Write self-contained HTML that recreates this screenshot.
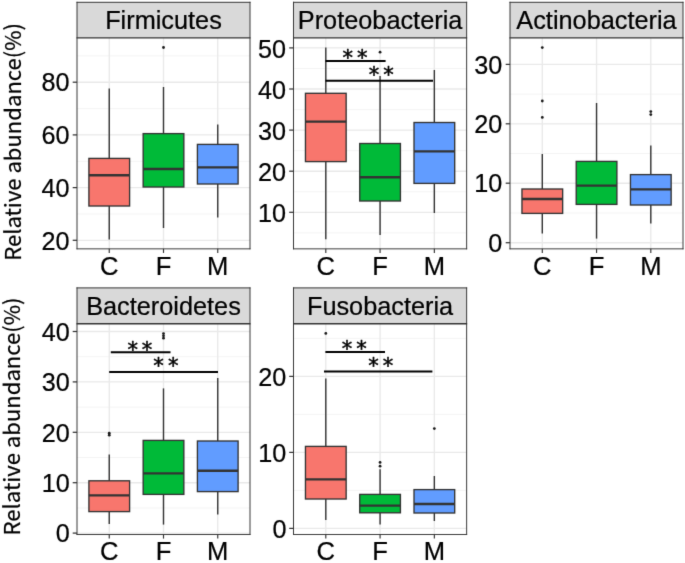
<!DOCTYPE html>
<html lang="en"><head><meta charset="utf-8"><title>Relative abundance of phyla</title>
<style>html,body{margin:0;padding:0;background:#fff}body{width:685px;height:563px;overflow:hidden}svg{display:block}text{font-family:"Liberation Sans",Arial,sans-serif;fill:#000;stroke:#000;stroke-width:0.22px;stroke-linejoin:round}.ast{font-family:"DejaVu Sans","Liberation Sans",sans-serif;stroke-width:0.5px}.yt{font-family:"Noto Sans CJK SC","Noto Sans CJK JP","Liberation Sans",sans-serif}</style></head><body>
<svg width="685" height="563" viewBox="0 0 685 563">
<rect x="0" y="0" width="685" height="563" fill="#ffffff"/>
<defs><filter id="soft" x="0" y="0" width="685" height="563" filterUnits="userSpaceOnUse" color-interpolation-filters="sRGB"><feConvolveMatrix order="3" kernelMatrix="0.01000 0.08000 0.01000 0.08000 0.64000 0.08000 0.01000 0.08000 0.01000" divisor="1" edgeMode="duplicate" preserveAlpha="true"/></filter></defs>
<g filter="url(#soft)">
<rect x="-5" y="-5" width="695" height="573" fill="#ffffff"/>
<text transform="translate(20.6,141.9) rotate(-90)" text-anchor="middle" font-size="22.05" class="yt">Relative abundance(%)</text>
<text transform="translate(19.6,416.5) rotate(-90)" text-anchor="middle" font-size="22.05" class="yt">Relative abundance(%)</text>
<g>
<rect x="77" y="37.8" width="173" height="211.05" fill="#fff"/>
<line x1="77" x2="250" y1="108.55" y2="108.55" stroke="#f1f1f1" stroke-width="0.8"/>
<line x1="77" x2="250" y1="161.25" y2="161.25" stroke="#f1f1f1" stroke-width="0.8"/>
<line x1="77" x2="250" y1="213.95" y2="213.95" stroke="#f1f1f1" stroke-width="0.8"/>
<line x1="77" x2="250" y1="55.85" y2="55.85" stroke="#f1f1f1" stroke-width="0.8"/>
<line x1="77" x2="250" y1="82.2" y2="82.2" stroke="#e9e9e9" stroke-width="1.35"/>
<line x1="77" x2="250" y1="134.9" y2="134.9" stroke="#e9e9e9" stroke-width="1.35"/>
<line x1="77" x2="250" y1="187.6" y2="187.6" stroke="#e9e9e9" stroke-width="1.35"/>
<line x1="77" x2="250" y1="240.3" y2="240.3" stroke="#e9e9e9" stroke-width="1.35"/>
<line x1="109.25" x2="109.25" y1="37.8" y2="248.85" stroke="#e9e9e9" stroke-width="1.35"/>
<line x1="163.5" x2="163.5" y1="37.8" y2="248.85" stroke="#e9e9e9" stroke-width="1.35"/>
<line x1="217.75" x2="217.75" y1="37.8" y2="248.85" stroke="#e9e9e9" stroke-width="1.35"/>
<line x1="109.25" x2="109.25" y1="88.4" y2="158.4" stroke="#333333" stroke-width="1.4"/>
<line x1="109.25" x2="109.25" y1="206" y2="239.6" stroke="#333333" stroke-width="1.4"/>
<rect x="88.91" y="158.4" width="40.69" height="47.6" fill="#F8766D" stroke="#333333" stroke-width="1.35"/>
<line x1="88.91" x2="129.59" y1="175.3" y2="175.3" stroke="#333333" stroke-width="2.4"/>
<line x1="163.5" x2="163.5" y1="87" y2="133.6" stroke="#333333" stroke-width="1.4"/>
<line x1="163.5" x2="163.5" y1="187" y2="228" stroke="#333333" stroke-width="1.4"/>
<rect x="143.16" y="133.6" width="40.69" height="53.4" fill="#00BA38" stroke="#333333" stroke-width="1.35"/>
<line x1="143.16" x2="183.84" y1="169" y2="169" stroke="#333333" stroke-width="2.4"/>
<line x1="217.75" x2="217.75" y1="124.4" y2="144.4" stroke="#333333" stroke-width="1.4"/>
<line x1="217.75" x2="217.75" y1="184" y2="217.6" stroke="#333333" stroke-width="1.4"/>
<rect x="197.41" y="144.4" width="40.69" height="39.6" fill="#619CFF" stroke="#333333" stroke-width="1.35"/>
<line x1="197.41" x2="238.09" y1="167.4" y2="167.4" stroke="#333333" stroke-width="2.4"/>
<circle cx="163.5" cy="47.5" r="1.4" fill="#1a1a1a"/>
<rect x="77" y="2.3" width="173" height="35.5" fill="#d9d9d9"/>
<line x1="77" x2="77" y1="1.8" y2="249.3" stroke="#333333" stroke-width="0.97"/>
<line x1="250" x2="250" y1="1.8" y2="249.3" stroke="#333333" stroke-width="0.97"/>
<line x1="76.52" x2="250.49" y1="2.3" y2="2.3" stroke="#333333" stroke-width="1.0"/>
<line x1="76.52" x2="250.49" y1="37.8" y2="37.8" stroke="#333333" stroke-width="1.3"/>
<line x1="76.52" x2="250.49" y1="248.85" y2="248.85" stroke="#333333" stroke-width="0.95"/>
<text x="163.5" y="28.9" text-anchor="middle" font-size="25.3" fill="#1a1a1a" stroke="#1a1a1a">Firmicutes</text>
<line x1="72.7" x2="77" y1="82.2" y2="82.2" stroke="#333333" stroke-width="1.25"/>
<text x="69.5" y="91.4" text-anchor="end" font-size="25.2">80</text>
<line x1="72.7" x2="77" y1="134.9" y2="134.9" stroke="#333333" stroke-width="1.25"/>
<text x="69.5" y="144.1" text-anchor="end" font-size="25.2">60</text>
<line x1="72.7" x2="77" y1="187.6" y2="187.6" stroke="#333333" stroke-width="1.25"/>
<text x="69.5" y="196.8" text-anchor="end" font-size="25.2">40</text>
<line x1="72.7" x2="77" y1="240.3" y2="240.3" stroke="#333333" stroke-width="1.25"/>
<text x="69.5" y="249.5" text-anchor="end" font-size="25.2">20</text>
<line x1="109.25" x2="109.25" y1="248.85" y2="252.95" stroke="#333333" stroke-width="1.15"/>
<text x="109.25" y="274.8" text-anchor="middle" font-size="25.6">C</text>
<line x1="163.5" x2="163.5" y1="248.85" y2="252.95" stroke="#333333" stroke-width="1.15"/>
<text x="163.5" y="274.8" text-anchor="middle" font-size="25.6">F</text>
<line x1="217.75" x2="217.75" y1="248.85" y2="252.95" stroke="#333333" stroke-width="1.15"/>
<text x="217.75" y="274.8" text-anchor="middle" font-size="25.6">M</text>
</g>
<g>
<rect x="293.5" y="37.8" width="173.15" height="211.05" fill="#fff"/>
<line x1="293.5" x2="466.65" y1="68.45" y2="68.45" stroke="#f1f1f1" stroke-width="0.8"/>
<line x1="293.5" x2="466.65" y1="109.55" y2="109.55" stroke="#f1f1f1" stroke-width="0.8"/>
<line x1="293.5" x2="466.65" y1="150.65" y2="150.65" stroke="#f1f1f1" stroke-width="0.8"/>
<line x1="293.5" x2="466.65" y1="191.75" y2="191.75" stroke="#f1f1f1" stroke-width="0.8"/>
<line x1="293.5" x2="466.65" y1="232.85" y2="232.85" stroke="#f1f1f1" stroke-width="0.8"/>
<line x1="293.5" x2="466.65" y1="47.9" y2="47.9" stroke="#e9e9e9" stroke-width="1.35"/>
<line x1="293.5" x2="466.65" y1="89" y2="89" stroke="#e9e9e9" stroke-width="1.35"/>
<line x1="293.5" x2="466.65" y1="130.1" y2="130.1" stroke="#e9e9e9" stroke-width="1.35"/>
<line x1="293.5" x2="466.65" y1="171.2" y2="171.2" stroke="#e9e9e9" stroke-width="1.35"/>
<line x1="293.5" x2="466.65" y1="212.3" y2="212.3" stroke="#e9e9e9" stroke-width="1.35"/>
<line x1="325.8" x2="325.8" y1="37.8" y2="248.85" stroke="#e9e9e9" stroke-width="1.35"/>
<line x1="380.08" x2="380.08" y1="37.8" y2="248.85" stroke="#e9e9e9" stroke-width="1.35"/>
<line x1="434.35" x2="434.35" y1="37.8" y2="248.85" stroke="#e9e9e9" stroke-width="1.35"/>
<line x1="325.8" x2="325.8" y1="47.6" y2="93.3" stroke="#333333" stroke-width="1.4"/>
<line x1="325.8" x2="325.8" y1="161.6" y2="239.2" stroke="#333333" stroke-width="1.4"/>
<rect x="305.46" y="93.3" width="40.69" height="68.3" fill="#F8766D" stroke="#333333" stroke-width="1.35"/>
<line x1="305.46" x2="346.14" y1="121.6" y2="121.6" stroke="#333333" stroke-width="2.4"/>
<line x1="380.08" x2="380.08" y1="75.9" y2="143.5" stroke="#333333" stroke-width="1.4"/>
<line x1="380.08" x2="380.08" y1="201" y2="235" stroke="#333333" stroke-width="1.4"/>
<rect x="359.74" y="143.5" width="40.69" height="57.5" fill="#00BA38" stroke="#333333" stroke-width="1.35"/>
<line x1="359.74" x2="400.42" y1="177.3" y2="177.3" stroke="#333333" stroke-width="2.4"/>
<line x1="434.35" x2="434.35" y1="70" y2="122.5" stroke="#333333" stroke-width="1.4"/>
<line x1="434.35" x2="434.35" y1="183.4" y2="213" stroke="#333333" stroke-width="1.4"/>
<rect x="414.01" y="122.5" width="40.69" height="60.9" fill="#619CFF" stroke="#333333" stroke-width="1.35"/>
<line x1="414.01" x2="454.69" y1="151.4" y2="151.4" stroke="#333333" stroke-width="2.4"/>
<circle cx="380.08" cy="52.2" r="1.4" fill="#1a1a1a"/>
<line x1="325.5" x2="385.6" y1="61" y2="61" stroke="#000" stroke-width="2.0"/>
<text class="ast" x="347.7" y="64.9" text-anchor="middle" font-size="21" stroke="#000" stroke-width="0.55">*</text>
<text class="ast" x="362.3" y="64.9" text-anchor="middle" font-size="21" stroke="#000" stroke-width="0.55">*</text>
<line x1="325.5" x2="433" y1="80.7" y2="80.7" stroke="#000" stroke-width="2.0"/>
<text class="ast" x="374" y="82.2" text-anchor="middle" font-size="21" stroke="#000" stroke-width="0.55">*</text>
<text class="ast" x="388.4" y="82.2" text-anchor="middle" font-size="21" stroke="#000" stroke-width="0.55">*</text>
<rect x="293.5" y="2.3" width="173.15" height="35.5" fill="#d9d9d9"/>
<line x1="293.5" x2="293.5" y1="1.8" y2="249.3" stroke="#333333" stroke-width="0.97"/>
<line x1="466.65" x2="466.65" y1="1.8" y2="249.3" stroke="#333333" stroke-width="0.97"/>
<line x1="293.01" x2="467.13" y1="2.3" y2="2.3" stroke="#333333" stroke-width="1.0"/>
<line x1="293.01" x2="467.13" y1="37.8" y2="37.8" stroke="#333333" stroke-width="1.3"/>
<line x1="293.01" x2="467.13" y1="248.85" y2="248.85" stroke="#333333" stroke-width="0.95"/>
<text x="380.07" y="28.9" text-anchor="middle" font-size="25.3" fill="#1a1a1a" stroke="#1a1a1a">Proteobacteria</text>
<line x1="289.2" x2="293.5" y1="47.9" y2="47.9" stroke="#333333" stroke-width="1.25"/>
<text x="286.1" y="57.6" text-anchor="end" font-size="25.2">50</text>
<line x1="289.2" x2="293.5" y1="89" y2="89" stroke="#333333" stroke-width="1.25"/>
<text x="286.1" y="98.7" text-anchor="end" font-size="25.2">40</text>
<line x1="289.2" x2="293.5" y1="130.1" y2="130.1" stroke="#333333" stroke-width="1.25"/>
<text x="286.1" y="139.8" text-anchor="end" font-size="25.2">30</text>
<line x1="289.2" x2="293.5" y1="171.2" y2="171.2" stroke="#333333" stroke-width="1.25"/>
<text x="286.1" y="180.9" text-anchor="end" font-size="25.2">20</text>
<line x1="289.2" x2="293.5" y1="212.3" y2="212.3" stroke="#333333" stroke-width="1.25"/>
<text x="286.1" y="222" text-anchor="end" font-size="25.2">10</text>
<line x1="325.8" x2="325.8" y1="248.85" y2="252.95" stroke="#333333" stroke-width="1.15"/>
<text x="325.8" y="274.8" text-anchor="middle" font-size="25.6">C</text>
<line x1="380.08" x2="380.08" y1="248.85" y2="252.95" stroke="#333333" stroke-width="1.15"/>
<text x="380.08" y="274.8" text-anchor="middle" font-size="25.6">F</text>
<line x1="434.35" x2="434.35" y1="248.85" y2="252.95" stroke="#333333" stroke-width="1.15"/>
<text x="434.35" y="274.8" text-anchor="middle" font-size="25.6">M</text>
</g>
<g>
<rect x="510" y="37.8" width="173" height="211.05" fill="#fff"/>
<line x1="510" x2="683" y1="94.1" y2="94.1" stroke="#f1f1f1" stroke-width="0.8"/>
<line x1="510" x2="683" y1="153.5" y2="153.5" stroke="#f1f1f1" stroke-width="0.8"/>
<line x1="510" x2="683" y1="212.95" y2="212.95" stroke="#f1f1f1" stroke-width="0.8"/>
<line x1="510" x2="683" y1="64.4" y2="64.4" stroke="#e9e9e9" stroke-width="1.35"/>
<line x1="510" x2="683" y1="123.8" y2="123.8" stroke="#e9e9e9" stroke-width="1.35"/>
<line x1="510" x2="683" y1="183.2" y2="183.2" stroke="#e9e9e9" stroke-width="1.35"/>
<line x1="510" x2="683" y1="242.7" y2="242.7" stroke="#e9e9e9" stroke-width="1.35"/>
<line x1="542.3" x2="542.3" y1="37.8" y2="248.85" stroke="#e9e9e9" stroke-width="1.35"/>
<line x1="596.55" x2="596.55" y1="37.8" y2="248.85" stroke="#e9e9e9" stroke-width="1.35"/>
<line x1="650.8" x2="650.8" y1="37.8" y2="248.85" stroke="#e9e9e9" stroke-width="1.35"/>
<line x1="542.3" x2="542.3" y1="154" y2="189" stroke="#333333" stroke-width="1.4"/>
<line x1="542.3" x2="542.3" y1="213.4" y2="233.6" stroke="#333333" stroke-width="1.4"/>
<rect x="521.96" y="189" width="40.69" height="24.4" fill="#F8766D" stroke="#333333" stroke-width="1.35"/>
<line x1="521.96" x2="562.64" y1="199" y2="199" stroke="#333333" stroke-width="2.4"/>
<line x1="596.55" x2="596.55" y1="103" y2="161.4" stroke="#333333" stroke-width="1.4"/>
<line x1="596.55" x2="596.55" y1="204.4" y2="238.6" stroke="#333333" stroke-width="1.4"/>
<rect x="576.21" y="161.4" width="40.69" height="43" fill="#00BA38" stroke="#333333" stroke-width="1.35"/>
<line x1="576.21" x2="616.89" y1="185.6" y2="185.6" stroke="#333333" stroke-width="2.4"/>
<line x1="650.8" x2="650.8" y1="145.6" y2="174.6" stroke="#333333" stroke-width="1.4"/>
<line x1="650.8" x2="650.8" y1="205" y2="223.4" stroke="#333333" stroke-width="1.4"/>
<rect x="630.46" y="174.6" width="40.69" height="30.4" fill="#619CFF" stroke="#333333" stroke-width="1.35"/>
<line x1="630.46" x2="671.14" y1="189.4" y2="189.4" stroke="#333333" stroke-width="2.4"/>
<circle cx="542.3" cy="47.6" r="1.4" fill="#1a1a1a"/>
<circle cx="542.3" cy="101" r="1.4" fill="#1a1a1a"/>
<circle cx="542.3" cy="117.4" r="1.4" fill="#1a1a1a"/>
<circle cx="650.8" cy="111.6" r="1.4" fill="#1a1a1a"/>
<circle cx="650.8" cy="114.6" r="1.4" fill="#1a1a1a"/>
<rect x="510" y="2.3" width="173" height="35.5" fill="#d9d9d9"/>
<line x1="510" x2="510" y1="1.8" y2="249.3" stroke="#333333" stroke-width="0.97"/>
<line x1="683" x2="683" y1="1.8" y2="249.3" stroke="#333333" stroke-width="0.97"/>
<line x1="509.51" x2="683.49" y1="2.3" y2="2.3" stroke="#333333" stroke-width="1.0"/>
<line x1="509.51" x2="683.49" y1="37.8" y2="37.8" stroke="#333333" stroke-width="1.3"/>
<line x1="509.51" x2="683.49" y1="248.85" y2="248.85" stroke="#333333" stroke-width="0.95"/>
<text x="596.5" y="28.9" text-anchor="middle" font-size="25.3" fill="#1a1a1a" stroke="#1a1a1a">Actinobacteria</text>
<line x1="505.7" x2="510" y1="64.4" y2="64.4" stroke="#333333" stroke-width="1.25"/>
<text x="502.3" y="73.6" text-anchor="end" font-size="25.2">30</text>
<line x1="505.7" x2="510" y1="123.8" y2="123.8" stroke="#333333" stroke-width="1.25"/>
<text x="502.3" y="133" text-anchor="end" font-size="25.2">20</text>
<line x1="505.7" x2="510" y1="183.2" y2="183.2" stroke="#333333" stroke-width="1.25"/>
<text x="502.3" y="192.4" text-anchor="end" font-size="25.2">10</text>
<line x1="505.7" x2="510" y1="242.7" y2="242.7" stroke="#333333" stroke-width="1.25"/>
<text x="502.3" y="251.9" text-anchor="end" font-size="25.2">0</text>
<line x1="542.3" x2="542.3" y1="248.85" y2="252.95" stroke="#333333" stroke-width="1.15"/>
<text x="542.3" y="274.8" text-anchor="middle" font-size="25.6">C</text>
<line x1="596.55" x2="596.55" y1="248.85" y2="252.95" stroke="#333333" stroke-width="1.15"/>
<text x="596.55" y="274.8" text-anchor="middle" font-size="25.6">F</text>
<line x1="650.8" x2="650.8" y1="248.85" y2="252.95" stroke="#333333" stroke-width="1.15"/>
<text x="650.8" y="274.8" text-anchor="middle" font-size="25.6">M</text>
</g>
<g>
<rect x="77" y="323.75" width="173" height="210.75" fill="#fff"/>
<line x1="77" x2="250" y1="356.7" y2="356.7" stroke="#f1f1f1" stroke-width="0.8"/>
<line x1="77" x2="250" y1="407.1" y2="407.1" stroke="#f1f1f1" stroke-width="0.8"/>
<line x1="77" x2="250" y1="457.5" y2="457.5" stroke="#f1f1f1" stroke-width="0.8"/>
<line x1="77" x2="250" y1="507.9" y2="507.9" stroke="#f1f1f1" stroke-width="0.8"/>
<line x1="77" x2="250" y1="331.5" y2="331.5" stroke="#e9e9e9" stroke-width="1.35"/>
<line x1="77" x2="250" y1="381.9" y2="381.9" stroke="#e9e9e9" stroke-width="1.35"/>
<line x1="77" x2="250" y1="432.3" y2="432.3" stroke="#e9e9e9" stroke-width="1.35"/>
<line x1="77" x2="250" y1="482.7" y2="482.7" stroke="#e9e9e9" stroke-width="1.35"/>
<line x1="77" x2="250" y1="533.1" y2="533.1" stroke="#e9e9e9" stroke-width="1.35"/>
<line x1="109.25" x2="109.25" y1="323.75" y2="534.5" stroke="#e9e9e9" stroke-width="1.35"/>
<line x1="163.5" x2="163.5" y1="323.75" y2="534.5" stroke="#e9e9e9" stroke-width="1.35"/>
<line x1="217.75" x2="217.75" y1="323.75" y2="534.5" stroke="#e9e9e9" stroke-width="1.35"/>
<line x1="109.25" x2="109.25" y1="454.4" y2="480.8" stroke="#333333" stroke-width="1.4"/>
<line x1="109.25" x2="109.25" y1="511.6" y2="524" stroke="#333333" stroke-width="1.4"/>
<rect x="88.91" y="480.8" width="40.69" height="30.8" fill="#F8766D" stroke="#333333" stroke-width="1.35"/>
<line x1="88.91" x2="129.59" y1="495.4" y2="495.4" stroke="#333333" stroke-width="2.4"/>
<line x1="163.5" x2="163.5" y1="388.4" y2="440.4" stroke="#333333" stroke-width="1.4"/>
<line x1="163.5" x2="163.5" y1="494.4" y2="524.6" stroke="#333333" stroke-width="1.4"/>
<rect x="143.16" y="440.4" width="40.69" height="54" fill="#00BA38" stroke="#333333" stroke-width="1.35"/>
<line x1="143.16" x2="183.84" y1="473.4" y2="473.4" stroke="#333333" stroke-width="2.4"/>
<line x1="217.75" x2="217.75" y1="378" y2="441" stroke="#333333" stroke-width="1.4"/>
<line x1="217.75" x2="217.75" y1="491.6" y2="514.6" stroke="#333333" stroke-width="1.4"/>
<rect x="197.41" y="441" width="40.69" height="50.6" fill="#619CFF" stroke="#333333" stroke-width="1.35"/>
<line x1="197.41" x2="238.09" y1="470.8" y2="470.8" stroke="#333333" stroke-width="2.4"/>
<circle cx="109.25" cy="433.2" r="1.4" fill="#1a1a1a"/>
<circle cx="109.25" cy="435.2" r="1.4" fill="#1a1a1a"/>
<circle cx="163.5" cy="333.6" r="1.4" fill="#1a1a1a"/>
<circle cx="163.5" cy="335.8" r="1.4" fill="#1a1a1a"/>
<circle cx="163.5" cy="338.2" r="1.4" fill="#1a1a1a"/>
<line x1="110.8" x2="170.5" y1="352.3" y2="352.3" stroke="#000" stroke-width="2.0"/>
<text class="ast" x="132.7" y="356.5" text-anchor="middle" font-size="21" stroke="#000" stroke-width="0.55">*</text>
<text class="ast" x="147.1" y="356.5" text-anchor="middle" font-size="21" stroke="#000" stroke-width="0.55">*</text>
<line x1="109.2" x2="218" y1="371.9" y2="371.9" stroke="#000" stroke-width="2.0"/>
<text class="ast" x="158.5" y="373.2" text-anchor="middle" font-size="21" stroke="#000" stroke-width="0.55">*</text>
<text class="ast" x="173.2" y="373.2" text-anchor="middle" font-size="21" stroke="#000" stroke-width="0.55">*</text>
<rect x="77" y="287.9" width="173" height="35.85" fill="#d9d9d9"/>
<line x1="77" x2="77" y1="287.4" y2="534.95" stroke="#333333" stroke-width="0.97"/>
<line x1="250" x2="250" y1="287.4" y2="534.95" stroke="#333333" stroke-width="0.97"/>
<line x1="76.52" x2="250.49" y1="287.9" y2="287.9" stroke="#333333" stroke-width="1.0"/>
<line x1="76.52" x2="250.49" y1="323.75" y2="323.75" stroke="#333333" stroke-width="1.3"/>
<line x1="76.52" x2="250.49" y1="534.5" y2="534.5" stroke="#333333" stroke-width="0.95"/>
<text x="163.5" y="314.5" text-anchor="middle" font-size="25.3" fill="#1a1a1a" stroke="#1a1a1a">Bacteroidetes</text>
<line x1="72.7" x2="77" y1="331.5" y2="331.5" stroke="#333333" stroke-width="1.25"/>
<text x="69.7" y="340.7" text-anchor="end" font-size="25.2">40</text>
<line x1="72.7" x2="77" y1="381.9" y2="381.9" stroke="#333333" stroke-width="1.25"/>
<text x="69.7" y="391.1" text-anchor="end" font-size="25.2">30</text>
<line x1="72.7" x2="77" y1="432.3" y2="432.3" stroke="#333333" stroke-width="1.25"/>
<text x="69.7" y="441.5" text-anchor="end" font-size="25.2">20</text>
<line x1="72.7" x2="77" y1="482.7" y2="482.7" stroke="#333333" stroke-width="1.25"/>
<text x="69.7" y="491.9" text-anchor="end" font-size="25.2">10</text>
<line x1="72.7" x2="77" y1="533.1" y2="533.1" stroke="#333333" stroke-width="1.25"/>
<text x="69.7" y="542.3" text-anchor="end" font-size="25.2">0</text>
<line x1="109.25" x2="109.25" y1="534.5" y2="538.6" stroke="#333333" stroke-width="1.15"/>
<text x="109.25" y="560.3" text-anchor="middle" font-size="25.6">C</text>
<line x1="163.5" x2="163.5" y1="534.5" y2="538.6" stroke="#333333" stroke-width="1.15"/>
<text x="163.5" y="560.3" text-anchor="middle" font-size="25.6">F</text>
<line x1="217.75" x2="217.75" y1="534.5" y2="538.6" stroke="#333333" stroke-width="1.15"/>
<text x="217.75" y="560.3" text-anchor="middle" font-size="25.6">M</text>
</g>
<g>
<rect x="293.5" y="323.75" width="173.15" height="210.75" fill="#fff"/>
<line x1="293.5" x2="466.65" y1="414.4" y2="414.4" stroke="#f1f1f1" stroke-width="0.8"/>
<line x1="293.5" x2="466.65" y1="490.4" y2="490.4" stroke="#f1f1f1" stroke-width="0.8"/>
<line x1="293.5" x2="466.65" y1="338.4" y2="338.4" stroke="#f1f1f1" stroke-width="0.8"/>
<line x1="293.5" x2="466.65" y1="376.4" y2="376.4" stroke="#e9e9e9" stroke-width="1.35"/>
<line x1="293.5" x2="466.65" y1="452.4" y2="452.4" stroke="#e9e9e9" stroke-width="1.35"/>
<line x1="293.5" x2="466.65" y1="528.4" y2="528.4" stroke="#e9e9e9" stroke-width="1.35"/>
<line x1="325.8" x2="325.8" y1="323.75" y2="534.5" stroke="#e9e9e9" stroke-width="1.35"/>
<line x1="380.08" x2="380.08" y1="323.75" y2="534.5" stroke="#e9e9e9" stroke-width="1.35"/>
<line x1="434.35" x2="434.35" y1="323.75" y2="534.5" stroke="#e9e9e9" stroke-width="1.35"/>
<line x1="325.8" x2="325.8" y1="378.4" y2="446.4" stroke="#333333" stroke-width="1.4"/>
<line x1="325.8" x2="325.8" y1="499" y2="520" stroke="#333333" stroke-width="1.4"/>
<rect x="305.46" y="446.4" width="40.69" height="52.6" fill="#F8766D" stroke="#333333" stroke-width="1.35"/>
<line x1="305.46" x2="346.14" y1="479.4" y2="479.4" stroke="#333333" stroke-width="2.4"/>
<line x1="380.08" x2="380.08" y1="469.2" y2="494.4" stroke="#333333" stroke-width="1.4"/>
<line x1="380.08" x2="380.08" y1="512.8" y2="524.5" stroke="#333333" stroke-width="1.4"/>
<rect x="359.74" y="494.4" width="40.69" height="18.4" fill="#00BA38" stroke="#333333" stroke-width="1.35"/>
<line x1="359.74" x2="400.42" y1="505.6" y2="505.6" stroke="#333333" stroke-width="2.4"/>
<line x1="434.35" x2="434.35" y1="476" y2="489.6" stroke="#333333" stroke-width="1.4"/>
<line x1="434.35" x2="434.35" y1="513" y2="521" stroke="#333333" stroke-width="1.4"/>
<rect x="414.01" y="489.6" width="40.69" height="23.4" fill="#619CFF" stroke="#333333" stroke-width="1.35"/>
<line x1="414.01" x2="454.69" y1="504" y2="504" stroke="#333333" stroke-width="2.4"/>
<circle cx="325.8" cy="333.4" r="1.4" fill="#1a1a1a"/>
<circle cx="380.08" cy="462.4" r="1.4" fill="#1a1a1a"/>
<circle cx="380.08" cy="466.2" r="1.4" fill="#1a1a1a"/>
<circle cx="434.35" cy="428.6" r="1.4" fill="#1a1a1a"/>
<line x1="325.4" x2="385" y1="352" y2="352" stroke="#000" stroke-width="2.0"/>
<text class="ast" x="347" y="356.3" text-anchor="middle" font-size="21" stroke="#000" stroke-width="0.55">*</text>
<text class="ast" x="361.6" y="356.3" text-anchor="middle" font-size="21" stroke="#000" stroke-width="0.55">*</text>
<line x1="324" x2="432.4" y1="371.4" y2="371.4" stroke="#000" stroke-width="2.0"/>
<text class="ast" x="373.4" y="373.3" text-anchor="middle" font-size="21" stroke="#000" stroke-width="0.55">*</text>
<text class="ast" x="388" y="373.3" text-anchor="middle" font-size="21" stroke="#000" stroke-width="0.55">*</text>
<rect x="293.5" y="287.9" width="173.15" height="35.85" fill="#d9d9d9"/>
<line x1="293.5" x2="293.5" y1="287.4" y2="534.95" stroke="#333333" stroke-width="0.97"/>
<line x1="466.65" x2="466.65" y1="287.4" y2="534.95" stroke="#333333" stroke-width="0.97"/>
<line x1="293.01" x2="467.13" y1="287.9" y2="287.9" stroke="#333333" stroke-width="1.0"/>
<line x1="293.01" x2="467.13" y1="323.75" y2="323.75" stroke="#333333" stroke-width="1.3"/>
<line x1="293.01" x2="467.13" y1="534.5" y2="534.5" stroke="#333333" stroke-width="0.95"/>
<text x="380.07" y="314.5" text-anchor="middle" font-size="25.3" fill="#1a1a1a" stroke="#1a1a1a">Fusobacteria</text>
<line x1="289.2" x2="293.5" y1="376.4" y2="376.4" stroke="#333333" stroke-width="1.25"/>
<text x="286.4" y="385.6" text-anchor="end" font-size="25.2">20</text>
<line x1="289.2" x2="293.5" y1="452.4" y2="452.4" stroke="#333333" stroke-width="1.25"/>
<text x="286.4" y="461.6" text-anchor="end" font-size="25.2">10</text>
<line x1="289.2" x2="293.5" y1="528.4" y2="528.4" stroke="#333333" stroke-width="1.25"/>
<text x="286.4" y="537.6" text-anchor="end" font-size="25.2">0</text>
<line x1="325.8" x2="325.8" y1="534.5" y2="538.6" stroke="#333333" stroke-width="1.15"/>
<text x="325.8" y="560.3" text-anchor="middle" font-size="25.6">C</text>
<line x1="380.08" x2="380.08" y1="534.5" y2="538.6" stroke="#333333" stroke-width="1.15"/>
<text x="380.08" y="560.3" text-anchor="middle" font-size="25.6">F</text>
<line x1="434.35" x2="434.35" y1="534.5" y2="538.6" stroke="#333333" stroke-width="1.15"/>
<text x="434.35" y="560.3" text-anchor="middle" font-size="25.6">M</text>
</g>
</g>
</svg></body></html>
